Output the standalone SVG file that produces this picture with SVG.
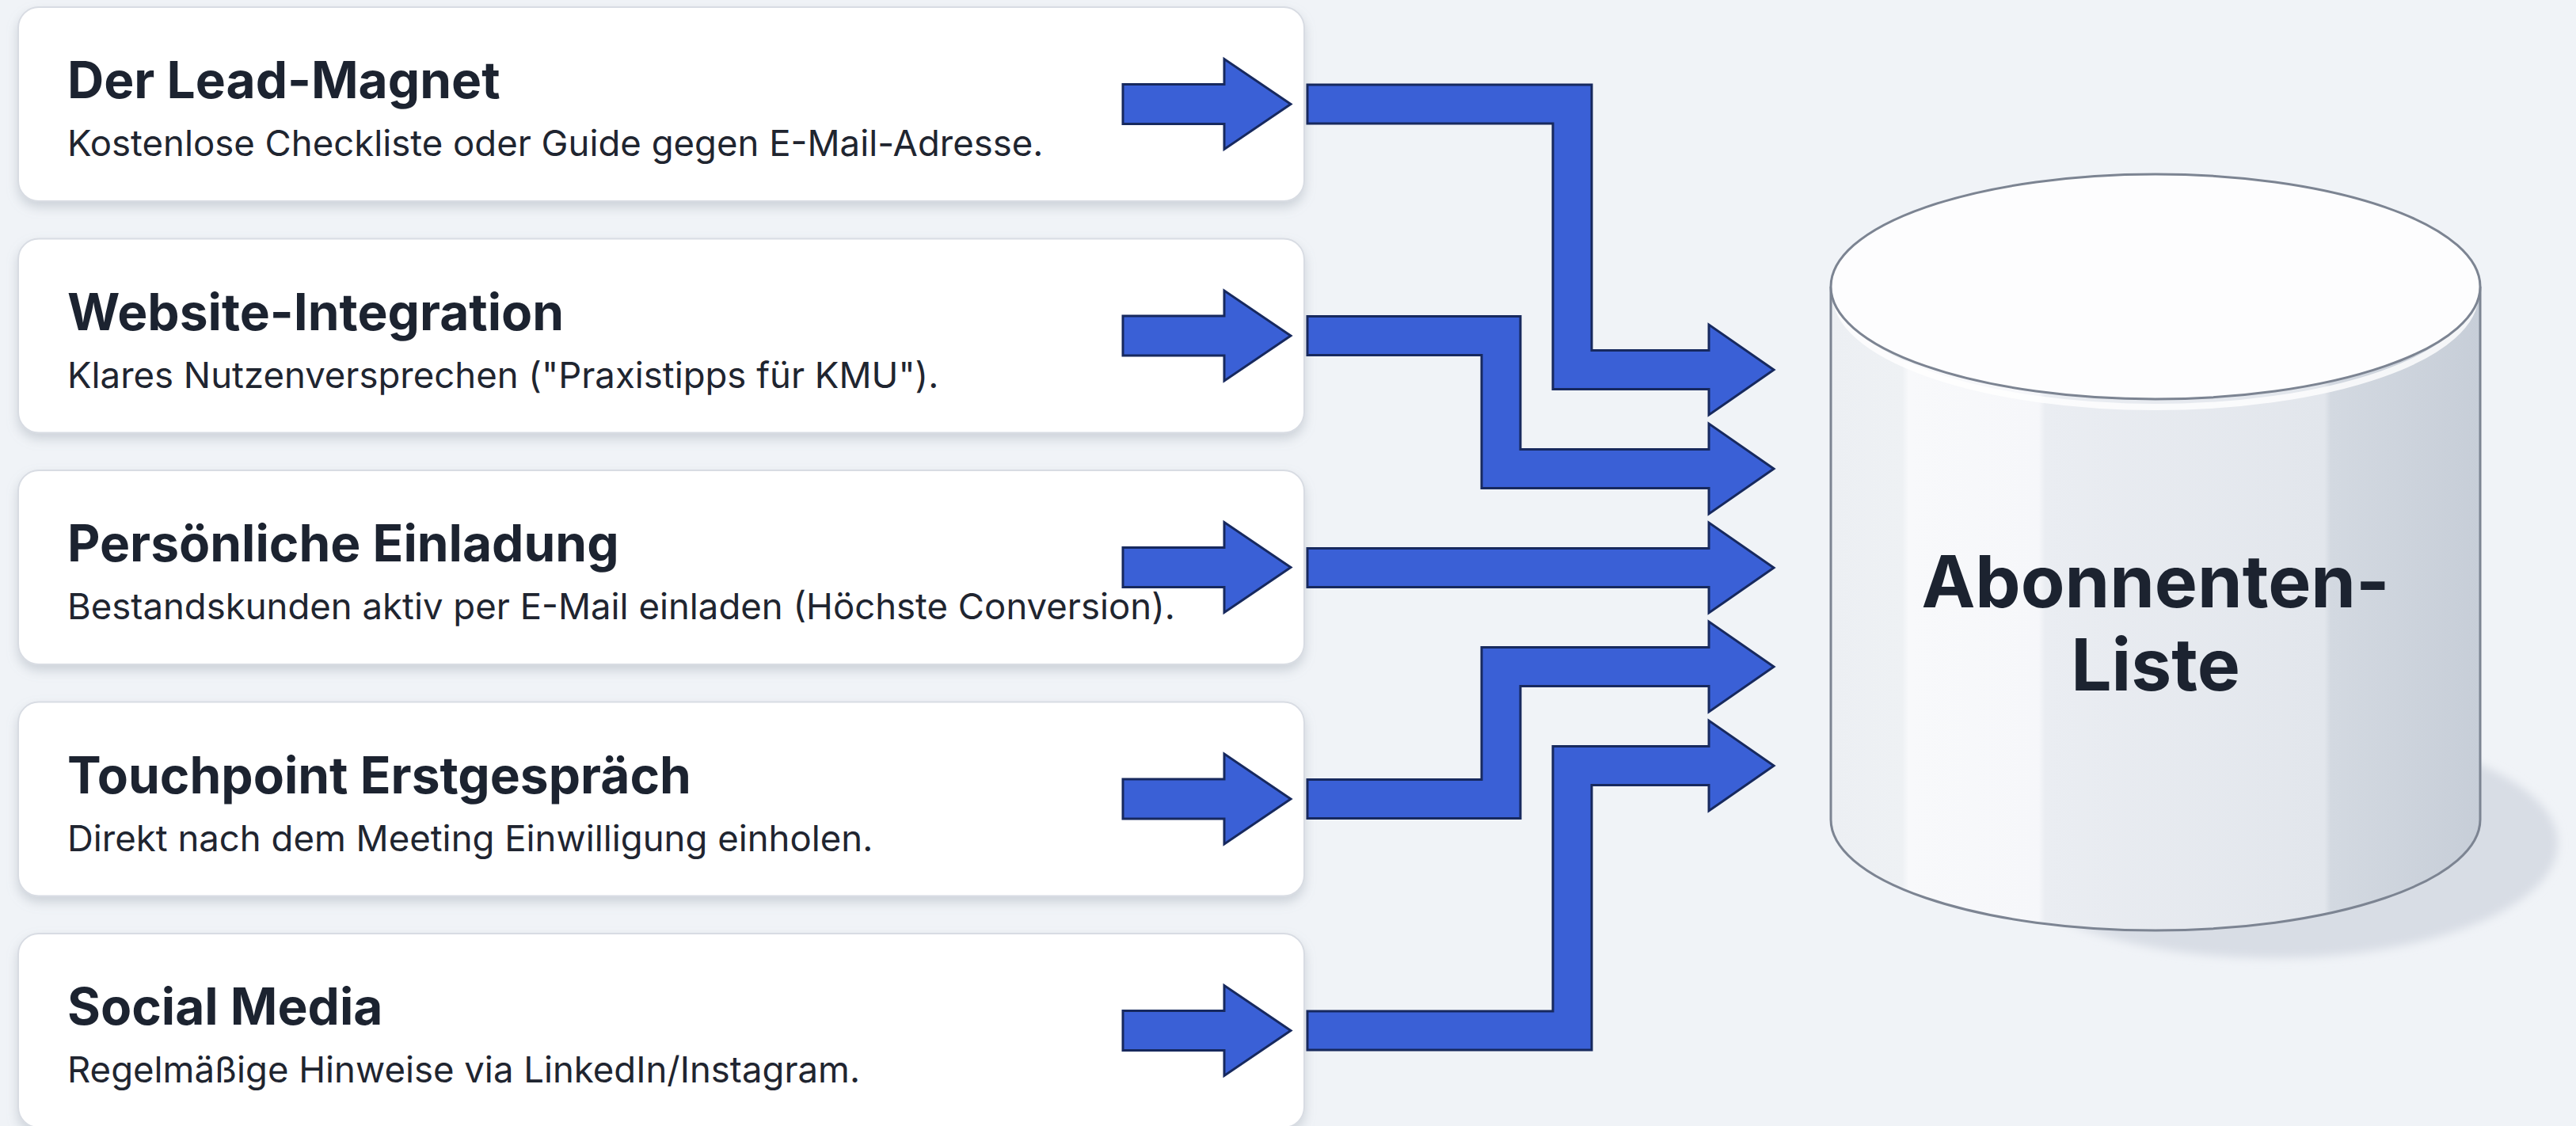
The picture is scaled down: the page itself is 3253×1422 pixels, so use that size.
<svg xmlns="http://www.w3.org/2000/svg" width="3253" height="1422" viewBox="0 0 3253 1422">
<defs>
<style>
.card{fill:#ffffff;stroke:#d8dce3;stroke-width:2;}
.title{font-family:Inter,"Liberation Sans",sans-serif;font-weight:700;font-size:64px;fill:#1c2330;}
.sub{font-family:Inter,"Liberation Sans",sans-serif;font-weight:400;font-size:45.5px;fill:#1f2530;}
.arr{fill:#3a60d6;stroke:#17295e;stroke-width:3;stroke-linejoin:miter;}
.cyltext{font-family:Inter,"Liberation Sans",sans-serif;font-weight:700;font-size:91px;fill:#1c2330;text-anchor:middle;}
.edge{fill:none;stroke:#7c8492;stroke-width:3;}
</style>
<filter id="sh" x="-5%" y="-20%" width="110%" height="150%">
<feDropShadow dx="0" dy="7" stdDeviation="7" flood-color="#8a94a3" flood-opacity="0.35"/>
</filter>
<filter id="blur" x="-20%" y="-40%" width="140%" height="180%">
<feGaussianBlur stdDeviation="6"/>
</filter>
<linearGradient id="body" x1="2312" y1="0" x2="3132" y2="0" gradientUnits="userSpaceOnUse">
<stop offset="0" stop-color="#eceff3"/>
<stop offset="0.11" stop-color="#eef1f4"/>
<stop offset="0.12" stop-color="#f8f9fb"/>
<stop offset="0.32" stop-color="#f6f7fa"/>
<stop offset="0.33" stop-color="#eaedf2"/>
<stop offset="0.76" stop-color="#e2e6ec"/>
<stop offset="0.77" stop-color="#d3d9e1"/>
<stop offset="1" stop-color="#c7ced8"/>
</linearGradient>
</defs>
<rect x="0" y="0" width="3253" height="1422" fill="#f0f3f7"/>

<g id="node-lead-magnet">
<rect class="card" x="23" y="9" width="1624" height="245" rx="26" filter="url(#sh)"/>
<text class="title" x="85" y="124">Der Lead-Magnet</text>
<text class="sub" x="85" y="197">Kostenlose Checkliste oder Guide gegen E-Mail-Adresse.</text>
<polygon class="arr" points="1418,106.5 1546,106.5 1546,74.5 1630,131.5 1546,188.5 1546,156.5 1418,156.5"/>
</g>
<g id="node-website">
<rect class="card" x="23" y="301.5" width="1624" height="245" rx="26" filter="url(#sh)"/>
<text class="title" x="85" y="416.5">Website-Integration</text>
<text class="sub" x="85" y="489.5">Klares Nutzenversprechen ("Praxistipps für KMU").</text>
<polygon class="arr" points="1418,399 1546,399 1546,367 1630,424 1546,481 1546,449 1418,449"/>
</g>
<g id="node-einladung">
<rect class="card" x="23" y="594" width="1624" height="245" rx="26" filter="url(#sh)"/>
<text class="title" x="85" y="709">Persönliche Einladung</text>
<text class="sub" x="85" y="782">Bestandskunden aktiv per E-Mail einladen (Höchste Conversion).</text>
<polygon class="arr" points="1418,691.5 1546,691.5 1546,659.5 1630,716.5 1546,773.5 1546,741.5 1418,741.5"/>
</g>
<g id="node-touchpoint">
<rect class="card" x="23" y="886.5" width="1624" height="245" rx="26" filter="url(#sh)"/>
<text class="title" x="85" y="1001.5">Touchpoint Erstgespräch</text>
<text class="sub" x="85" y="1074.5">Direkt nach dem Meeting Einwilligung einholen.</text>
<polygon class="arr" points="1418,984 1546,984 1546,952 1630,1009 1546,1066 1546,1034 1418,1034"/>
</g>
<g id="node-social">
<rect class="card" x="23" y="1179" width="1624" height="245" rx="26" filter="url(#sh)"/>
<text class="title" x="85" y="1294">Social Media</text>
<text class="sub" x="85" y="1367">Regelmäßige Hinweise via LinkedIn/Instagram.</text>
<polygon class="arr" points="1418,1276.5 1546,1276.5 1546,1244.5 1630,1301.5 1546,1358.5 1546,1326.5 1418,1326.5"/>
</g>

<g id="connectors">
<path class="arr" d="M1651,107 H2010 V442.5 H2158 V410 L2240,467 L2158,524 V491.5 H1961 V156 H1651 Z"/>
<path class="arr" d="M1651,399.5 H1920 V567.5 H2158 V535 L2240,592 L2158,649 V616.5 H1871 V448.5 H1651 Z"/>
<path class="arr" d="M1651,692.5 H2158 V660 L2240,717 L2158,774 V741.5 H1651 Z"/>
<path class="arr" d="M1651,984.5 H1871 V817.5 H2158 V785 L2240,842 L2158,899 V866.5 H1920 V1033.5 H1651 Z"/>
<path class="arr" d="M1651,1277 H1961 V942.5 H2158 V910 L2240,967 L2158,1024 V991.5 H2010 V1326 H1651 Z"/>
</g>

<g id="node-abonnenten-liste">
<ellipse cx="2870" cy="1065" rx="360" ry="145" fill="#d8dde5" filter="url(#blur)"/>
<path d="M2312,362 V1035 A410,140 0 0 0 3132,1035 V362 Z" fill="url(#body)"/>
<path class="edge" d="M2312,362 V1035 A410,140 0 0 0 3132,1035 V362"/>
<path d="M2318,372 A404,142 0 0 0 3126,372" fill="none" stroke="#ffffff" stroke-width="8" opacity="0.8"/>
<ellipse cx="2722" cy="362" rx="410" ry="142" fill="#fdfdfe" stroke="#7c8492" stroke-width="3"/>
<text class="cyltext" x="2722" y="767">Abonnenten-</text>
<text class="cyltext" x="2722" y="872">Liste</text>
</g>
</svg>
